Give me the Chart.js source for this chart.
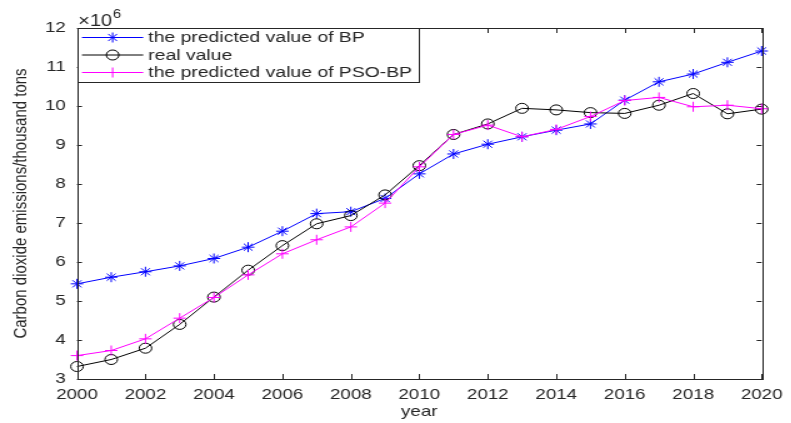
<!DOCTYPE html>
<html>
<head>
<meta charset="utf-8">
<title>Carbon dioxide emissions</title>
<script src="https://cdn.jsdelivr.net/npm/chart.js@4/dist/chart.umd.min.js"></script>
<style>
  html, body { margin: 0; padding: 0; background: #fff; overflow: hidden; }
  #wrap { width: 791px; height: 423px; overflow: hidden; }
  /* the figure is drawn narrow and widened, like the exported plot */
  #chart { display: block; transform: scaleX(1.25); transform-origin: 0 0; }
</style>
</head>
<body>
<div id="wrap"><canvas id="chart" width="633" height="423"></canvas></div>
<script>
// emissions in units of 10^6 thousand tons
const years = [2000, 2001, 2002, 2003, 2004, 2005, 2006, 2007, 2008, 2009, 2010,
               2011, 2012, 2013, 2014, 2015, 2016, 2017, 2018, 2019, 2020];
const bpValues   = [5.44, 5.61, 5.75, 5.90, 6.09, 6.38, 6.79, 7.24, 7.29, 7.63, 8.26,
                    8.77, 9.02, 9.21, 9.38, 9.54, 10.15, 10.62, 10.82, 11.12, 11.41];
const realValues = [3.32, 3.50, 3.79, 4.40, 5.10, 5.79, 6.42, 6.98, 7.19, 7.72, 8.47,
                    9.27, 9.54, 9.94, 9.90, 9.83, 9.81, 10.02, 10.32, 9.80, 9.92];
const psoValues  = [3.60, 3.73, 4.03, 4.56, 5.09, 5.67, 6.21, 6.57, 6.90, 7.51, 8.44,
                    9.27, 9.51, 9.21, 9.40, 9.73, 10.14, 10.22, 9.98, 10.02, 9.93];
const seriesNames = ["the predicted value of BP", "real value", "the predicted value of PSO-BP"];

const FONT = "'Liberation Sans', Arial, Helvetica, sans-serif";
const INK = "#262626";

const pts = vals => years.map((yr, i) => ({ x: yr, y: vals[i] }));

// box round the axes with inward tick marks on all four sides
const axesBox = {
  id: "axesBox",
  afterDatasetsDraw(chart) {
    const { ctx, chartArea: a, scales: { x, y } } = chart;
    ctx.save();
    ctx.strokeStyle = INK;
    ctx.lineWidth = 1;
    ctx.strokeRect(Math.round(a.left) + 0.5, Math.round(a.top) + 0.5,
                   Math.round(a.right - a.left), Math.round(a.bottom - a.top));
    ctx.beginPath();
    x.ticks.forEach(t => {
      const px = Math.round(x.getPixelForValue(t.value)) + 0.5;
      ctx.moveTo(px, a.bottom); ctx.lineTo(px, a.bottom - 5);
      ctx.moveTo(px, a.top); ctx.lineTo(px, a.top + 5);
    });
    y.ticks.forEach(t => {
      const py = Math.round(y.getPixelForValue(t.value)) + 0.5;
      ctx.moveTo(a.left, py); ctx.lineTo(a.left + 4, py);
      ctx.moveTo(a.right, py); ctx.lineTo(a.right - 4, py);
    });
    ctx.stroke();
    // exponent above the y axis
    ctx.fillStyle = INK;
    ctx.textBaseline = "alphabetic";
    ctx.font = "16px " + FONT;
    ctx.fillText("\u00d710", a.left + 1, a.top - 2);
    const w = ctx.measureText("\u00d710").width;
    ctx.font = "12px " + FONT;
    ctx.fillText("6", a.left + 1 + w + 0.5, a.top - 10);
    ctx.restore();
  }
};

// legend box in the upper left corner of the axes
const boxLegend = {
  id: "boxLegend",
  afterDraw(chart) {
    const { ctx, chartArea: a } = chart;
    ctx.save();
    ctx.font = "15.5px " + FONT;
    const textX = a.left + 57;
    const maxW = Math.max(...seriesNames.map(s => ctx.measureText(s).width));
    const left = Math.round(a.left) + 0.5, top = Math.round(a.top) + 0.5;
    const right = Math.round(textX + maxW + 5) + 0.5, bottom = 82.5;
    ctx.fillStyle = "#fff";
    ctx.fillRect(left, top, right - left, bottom - top);
    ctx.strokeStyle = INK;
    ctx.lineWidth = 1;
    ctx.strokeRect(left, top, right - left, bottom - top);
    chart.data.datasets.forEach((ds, i) => {
      const cy = a.top + 9.5 + i * 17.5;
      ctx.strokeStyle = ds.borderColor;
      ctx.lineWidth = 1;
      ctx.beginPath();
      ctx.moveTo(a.left + 4, cy);
      ctx.lineTo(a.left + 53, cy);
      ctx.stroke();
      ctx.fillStyle = ds.pointBackgroundColor;
      Chart.helpers.drawPoint(ctx, {
        pointStyle: ds.pointStyle, radius: ds.pointRadius,
        borderWidth: ds.pointBorderWidth, rotation: 0
      }, a.left + 28.5, cy);
      ctx.fillStyle = INK;
      ctx.textBaseline = "middle";
      ctx.fillText(seriesNames[i], textX, cy + 0.5);
    });
    ctx.restore();
  }
};

new Chart(document.getElementById("chart"), {
  type: "line",
  data: {
    datasets: [{
      label: seriesNames[0],
      data: pts(bpValues),
      borderColor: "#0000ff",
      pointBorderColor: "#0000ff",
      pointBackgroundColor: "#0000ff",
      pointStyle: "star",
      pointRadius: 5,
      pointBorderWidth: 1,
      borderWidth: 1,
      tension: 0,
      clip: false,
      order: 3
    }, {
      label: seriesNames[1],
      data: pts(realValues),
      borderColor: "#000000",
      pointBorderColor: "#000000",
      pointBackgroundColor: "rgba(0,0,0,0)",
      pointStyle: "circle",
      pointRadius: 5,
      pointBorderWidth: 1,
      borderWidth: 1,
      tension: 0,
      clip: false,
      order: 2
    }, {
      label: seriesNames[2],
      data: pts(psoValues),
      borderColor: "#ff00ff",
      pointBorderColor: "#ff00ff",
      pointBackgroundColor: "#ff00ff",
      pointStyle: "cross",
      pointRadius: 5,
      pointBorderWidth: 1,
      borderWidth: 1,
      tension: 0,
      clip: false,
      order: 1
    }]
  },
  options: {
    responsive: false,
    animation: false,
    devicePixelRatio: 1,
    layout: { padding: { left: 0, top: 28, right: 19.4, bottom: 0 } },
    plugins: { legend: { display: false }, tooltip: { enabled: false } },
    scales: {
      x: {
        type: "linear",
        min: 2000,
        max: 2020,
        grid: { display: false, drawTicks: false },
        border: { display: false },
        ticks: {
          stepSize: 2,
          padding: 7,
          maxRotation: 0,
          color: INK,
          font: { family: FONT, size: 15 },
          callback: v => String(v)
        },
        title: {
          display: true,
          text: "year",
          color: INK,
          font: { family: FONT, size: 15 },
          padding: { top: 0, bottom: 2.5 }
        },
        afterFit: s => { s.height = 44; }
      },
      y: {
        min: 3,
        max: 12,
        grid: { display: false, drawTicks: false },
        border: { display: false },
        ticks: {
          stepSize: 1,
          padding: 9,
          color: INK,
          font: { family: FONT, size: 15 }
        },
        title: {
          display: true,
          text: "Carbon dioxide emissions/thousand tons",
          color: INK,
          font: { family: FONT, size: 15 },
          padding: { top: 7.5, bottom: 0 }
        },
        afterFit: s => { s.width = 61.6; }
      }
    }
  },
  plugins: [axesBox, boxLegend]
});
</script>
</body>
</html>
